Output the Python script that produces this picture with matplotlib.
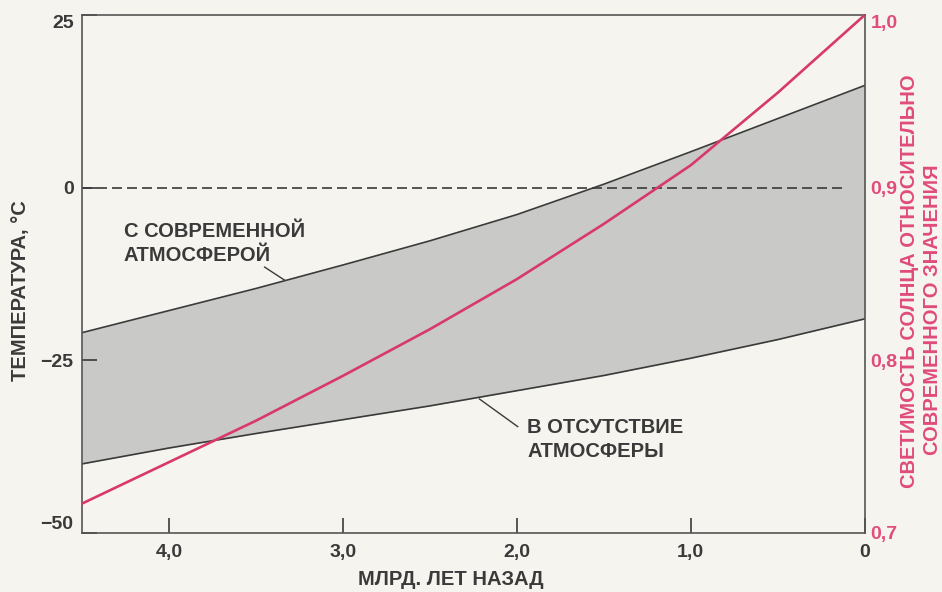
import numpy as np
import matplotlib.pyplot as plt

plt.rcParams['font.family'] = ['Liberation Sans', 'DejaVu Sans']
plt.rcParams['font.weight'] = 'bold'

# billions of years ago
age = [4.5, 4.0, 3.5, 3.0, 2.5, 2.0, 1.5, 1.0, 0.5, 0.0]
# temperature with present-day atmosphere, deg C
temp_atm = [-21.0, -17.8, -14.6, -11.2, -7.7, -3.9, 0.5, 5.2, 10.0, 14.8]
# temperature without atmosphere, deg C
temp_noatm = [-40.0, -37.7, -35.6, -33.6, -31.6, -29.4, -27.2, -24.7, -22.0, -19.0]
# solar luminosity relative to today
lum = [0.717, 0.741, 0.765, 0.791, 0.818, 0.847, 0.879, 0.913, 0.955, 1.0]

x_ticks = [4.0, 3.0, 2.0, 1.0, 0.0]
x_labels = ['4,0', '3,0', '2,0', '1,0', '0']
t_ticks = [25, 0, -25, -50]
t_labels = ['25', '0', '\u221225', '\u221250']
l_ticks = [0.7, 0.8, 0.9, 1.0]
l_labels = ['0,7', '0,8', '0,9', '1,0']

BG = '#f6f4ef'
DARK = '#3a3a3a'
RED = '#d8396a'
PINK = '#e04c7c'
FS = 14.5
TFS = 14

fig = plt.figure(figsize=(9.42, 5.92), dpi=100, facecolor=BG)
ax = fig.add_axes([0.087, 0.0997, 0.831, 0.875])
ax.set_facecolor(BG)

ax.fill_between(age, temp_noatm, temp_atm, color='#c9c9c7', lw=0)
ax.plot(age, temp_atm, color=DARK, lw=1.2)
ax.plot(age, temp_noatm, color=DARK, lw=1.2)
ax.plot([4.5, 0.13], [0, 0], color=DARK, lw=1.2, dashes=(6, 3))

ax.set_xlim(4.5, 0)
ax.set_ylim(-50, 25)
ax.set_xticks(x_ticks)
ax.set_xticklabels(x_labels)
ax.set_yticks(t_ticks)
ax.set_yticklabels(t_labels)
ax.tick_params(direction='in', length=11, width=1.2, color=DARK,
               labelsize=TFS, labelcolor=DARK)
ax.tick_params(axis='x', pad=8)
ax.tick_params(axis='y', pad=6)
ylabs = ax.get_yticklabels()
ylabs[0].set_va('top')
ylabs[-1].set_va('bottom')
for s in ax.spines.values():
    s.set_color('#555555')
    s.set_linewidth(1.2)

ax2 = ax.twinx()
ax2.plot(age, lum, color=RED, lw=1.9)
ax2.set_ylim(0.7, 1.0)
ax2.set_yticks(l_ticks)
ax2.set_yticklabels(l_labels)
ax2.tick_params(length=0, labelsize=TFS, labelcolor=PINK, pad=4)
llabs = ax2.get_yticklabels()
llabs[-1].set_va('top')
for s in ax2.spines.values():
    s.set_visible(False)

ax.text(-0.079, 0.467, 'ТЕМПЕРАТУРА, °С', transform=ax.transAxes,
        rotation=90, ha='center', va='center', fontsize=FS, color=DARK)
ax.text(0.471, -0.089, 'МЛРД. ЛЕТ НАЗАД', transform=ax.transAxes,
        ha='center', va='center', fontsize=FS, color=DARK)
ax.text(1.0575, 0.4865, 'СВЕТИМОСТЬ СОЛНЦА ОТНОСИТЕЛЬНО', transform=ax.transAxes,
        rotation=90, ha='center', va='center', fontsize=FS, color=PINK)
ax.text(1.087, 0.432, 'СОВРЕМЕННОГО ЗНАЧЕНИЯ', transform=ax.transAxes,
        rotation=90, ha='center', va='center', fontsize=FS, color=PINK)

ax.text(4.26, -5.0, 'С СОВРЕМЕННОЙ\nАТМОСФЕРОЙ', fontsize=FS, color=DARK,
        va='top', ha='left', linespacing=1.3)
ax.plot([3.45, 3.335], [-11.5, -13.4], color=DARK, lw=1.0)

ax.text(1.94, -33.3, 'В ОТСУТСТВИЕ\nАТМОСФЕРЫ', fontsize=FS, color=DARK,
        va='top', ha='left', linespacing=1.35)
ax.plot([2.215, 1.995], [-30.6, -34.6], color=DARK, lw=1.0)

fig.savefig('out.png', dpi=100, facecolor=BG)
